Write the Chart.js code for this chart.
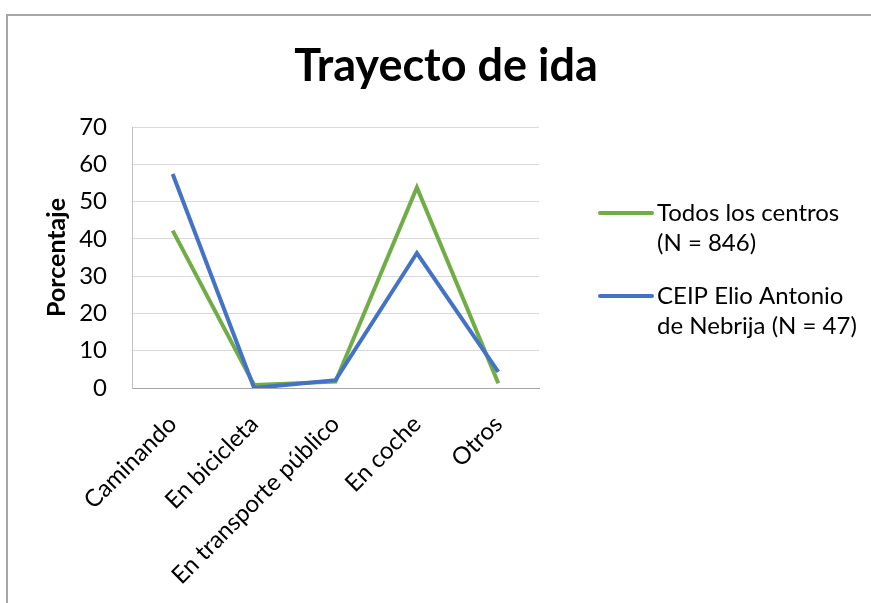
<!DOCTYPE html>
<html>
<head>
<meta charset="utf-8">
<script src="https://cdn.jsdelivr.net/npm/chart.js@4.4.1/dist/chart.umd.min.js"></script>
<style>
  html, body { margin: 0; padding: 0; background: #fff; }
  #wrap { position: relative; width: 871px; height: 603px; }
</style>
</head>
<body>
<div id="wrap"><canvas id="myChart" width="871" height="603"></canvas></div>
<script>
// data
var categories = ['Caminando', 'En bicicleta', 'En transporte público', 'En coche', 'Otros'];
var todosLabel = ['Todos los centros', '(N = 846)'];
var todosValues = [42.2, 0.8, 1.7, 53.8, 1.3];
var ceipLabel = ['CEIP Elio Antonio', 'de Nebrija (N = 47)'];
var ceipValues = [57.4, 0, 2.1, 36.2, 4.3];
var yTicks = [0, 10, 20, 30, 40, 50, 60, 70];

var chartTitle = 'Trayecto de ida';
var yTitle = 'Porcentaje';

var GREEN = '#70AD47';
var BLUE = '#4472C4';
var FONT = 'Lato, "DejaVu Sans", sans-serif';

// frame, title and legend drawn by hand
var extras = {
    id: 'extras',
    beforeDraw: function (chart) {
        var ctx = chart.ctx;
        ctx.save();
        ctx.strokeStyle = '#a6a6a6';
        ctx.lineWidth = 2;
        ctx.strokeRect(7, 15, 900, 650);
        ctx.restore();
    },
    afterDraw: function (chart) {
        var ctx = chart.ctx;
        ctx.save();
        ctx.fillStyle = '#000';
        ctx.font = 'bold 45px ' + FONT;
        ctx.textAlign = 'center';
        ctx.textBaseline = 'alphabetic';
        ctx.fillText(chartTitle, 446, 81);

        var items = [
            { color: GREEN, text: chart.data.datasets[0].label, y: 213 },
            { color: BLUE, text: chart.data.datasets[1].label, y: 296 }
        ];
        ctx.font = '24px ' + FONT;
        ctx.textAlign = 'left';
        ctx.textBaseline = 'middle';
        items.forEach(function (it) {
            ctx.strokeStyle = it.color;
            ctx.lineWidth = 4;
            ctx.lineCap = 'round';
            ctx.beginPath();
            ctx.moveTo(600, it.y);
            ctx.lineTo(652, it.y);
            ctx.stroke();
            it.text.forEach(function (line, i) {
                ctx.fillText(line, 657, it.y + i * 30);
            });
        });
        ctx.restore();
    }
};

const ctx = document.getElementById('myChart').getContext('2d');
const myChart = new Chart(ctx, {
    type: 'line',
    data: {
        labels: categories,
        datasets: [{
            label: todosLabel,
            data: todosValues,
            borderColor: GREEN,
            backgroundColor: GREEN,
            borderWidth: 4,
            pointRadius: 0,
            tension: 0,
            order: 1
        }, {
            label: ceipLabel,
            data: ceipValues,
            borderColor: BLUE,
            backgroundColor: BLUE,
            borderWidth: 4,
            pointRadius: 0,
            tension: 0,
            order: 0
        }]
    },
    options: {
        responsive: false,
        animation: false,
        layout: {
            padding: { left: 30, right: 332, top: 127, bottom: 0 }
        },
        plugins: {
            legend: { display: false },
            title: { display: false },
            tooltip: { enabled: false }
        },
        scales: {
            x: {
                offset: true,
                grid: { display: false },
                border: { display: true, color: '#a6a6a6', width: 1 },
                ticks: {
                    color: '#000',
                    font: { family: FONT, size: 24 },
                    minRotation: 45,
                    maxRotation: 45,
                    autoSkip: false,
                    padding: 14
                },
                afterFit: function (s) { s.height = 603 - 388; }
            },
            y: {
                min: 0,
                max: 70,
                afterBuildTicks: function (s) {
                    s.ticks = yTicks.map(function (v) { return { value: v }; });
                },
                grid: { color: '#d9d9d9', lineWidth: 1, drawTicks: false },
                border: { display: true, color: '#bfbfbf', width: 1 },
                ticks: {
                    color: '#000',
                    font: { family: FONT, size: 24 },
                    padding: 25
                },
                title: {
                    display: true,
                    text: yTitle,
                    color: '#000',
                    font: { family: FONT, size: 25, weight: 'bold' },
                    padding: { top: 12, bottom: 0 }
                },
                afterFit: function (s) { s.width = 132 - 30; }
            }
        }
    },
    plugins: [extras]
});
</script>
</body>
</html>
